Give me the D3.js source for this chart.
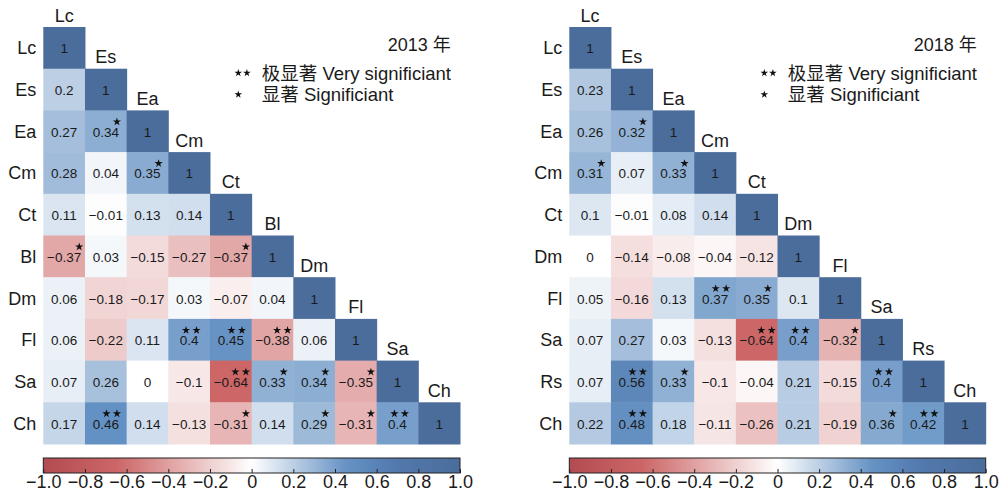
<!DOCTYPE html>
<html>
<head>
<meta charset="utf-8">
<script src="https://cdn.jsdelivr.net/npm/d3@7"></script>
<style>
  html, body { margin: 0; padding: 0; background: #fff; }
  svg { display: block; }
  text { font-family: "Liberation Sans", Arial, "Noto Sans CJK SC", sans-serif; fill: #1a1a1a; }
</style>
</head>
<body>
<svg id="chart" width="1005" height="501"></svg>
<script>
// ---- data -------------------------------------------------------------
// Lower-triangle correlation rows (diagonal included) and significance marks
// (number of stars: 1 = significant, 2 = very significant).
const vars2013 = ["Lc", "Es", "Ea", "Cm", "Ct", "Bl", "Dm", "Fl", "Sa", "Ch"];
const corr2013 = [
  [1],
  [0.2, 1],
  [0.27, 0.34, 1],
  [0.28, 0.04, 0.35, 1],
  [0.11, -0.01, 0.13, 0.14, 1],
  [-0.37, 0.03, -0.15, -0.27, -0.37, 1],
  [0.06, -0.18, -0.17, 0.03, -0.07, 0.04, 1],
  [0.06, -0.22, 0.11, 0.4, 0.45, -0.38, 0.06, 1],
  [0.07, 0.26, 0, -0.1, -0.64, 0.33, 0.34, -0.35, 1],
  [0.17, 0.46, 0.14, -0.13, -0.31, 0.14, 0.29, -0.31, 0.4, 1]
];
const sig2013 = [
  [0],
  [0, 0],
  [0, 1, 0],
  [0, 0, 1, 0],
  [0, 0, 0, 0, 0],
  [1, 0, 0, 0, 1, 0],
  [0, 0, 0, 0, 0, 0, 0],
  [0, 0, 0, 2, 2, 2, 0, 0],
  [0, 0, 0, 0, 2, 1, 1, 1, 0],
  [0, 2, 0, 0, 1, 0, 1, 1, 2, 0]
];

const vars2018 = ["Lc", "Es", "Ea", "Cm", "Ct", "Dm", "Fl", "Sa", "Rs", "Ch"];
const corr2018 = [
  [1],
  [0.23, 1],
  [0.26, 0.32, 1],
  [0.31, 0.07, 0.33, 1],
  [0.1, -0.01, 0.08, 0.14, 1],
  [0, -0.14, -0.08, -0.04, -0.12, 1],
  [0.05, -0.16, 0.13, 0.37, 0.35, 0.1, 1],
  [0.07, 0.27, 0.03, -0.13, -0.64, 0.4, -0.32, 1],
  [0.07, 0.56, 0.33, -0.1, -0.04, 0.21, -0.15, 0.4, 1],
  [0.22, 0.48, 0.18, -0.11, -0.26, 0.21, -0.19, 0.36, 0.42, 1]
];
const sig2018 = [
  [0],
  [0, 0],
  [0, 1, 0],
  [1, 0, 1, 0],
  [0, 0, 0, 0, 0],
  [0, 0, 0, 0, 0, 0],
  [0, 0, 0, 2, 1, 0, 0],
  [0, 0, 0, 0, 2, 2, 1, 0],
  [0, 2, 1, 0, 0, 0, 0, 2, 0],
  [0, 2, 0, 0, 0, 0, 0, 1, 2, 0]
];

const yearLabels = ["2013 年", "2018 年"];
const legendLabels = ["极显著 Very significiant", "显著 Significiant"];
const legendStars = [2, 1];
const colorbarTicks = [-1, -0.8, -0.6, -0.4, -0.2, 0, 0.2, 0.4, 0.6, 0.8, 1];
const colorbarTickLabels = ["−1.0", "−0.8", "−0.6", "−0.4", "−0.2", "0", "0.2", "0.4", "0.6", "0.8", "1.0"];

// ---- shared scales ------------------------------------------------------
const color = d3.scaleLinear()
  .domain([-1, -0.64, 0, 0.46, 0.7, 1])
  .range(["#b24b52", "#cd6767", "#ffffff", "#6491c3", "#5278ac", "#4a6d9b"])
  .interpolate(d3.interpolateRgb)
  .clamp(true);

const svg = d3.select("#chart");
const defs = svg.append("defs");
const grad = defs.append("linearGradient").attr("id", "cbar-grad")
  .attr("x1", "0%").attr("x2", "100%").attr("y1", "0%").attr("y2", "0%");
d3.range(0, 41).forEach(i => {
  const v = -1 + i * 0.05;
  grad.append("stop").attr("offset", (i / 40 * 100) + "%").attr("stop-color", color(v));
});

const starPath = size => d3.symbol().type(d3.symbolStar).size(size)();

function fmt(v) {
  return String(v).replace("-", "−");
}

function drawPanel(g, vars, corr, sig, year, left, right) {
  const top = 27, bottom = 444;
  const x = d3.scaleBand().domain(vars).range([left, right]);
  const y = d3.scaleBand().domain(vars).range([top, bottom]);
  const bw = x.bandwidth(), bh = y.bandwidth();

  const cells = [];
  corr.forEach((row, i) => row.forEach((v, j) => {
    cells.push({ r: vars[i], c: vars[j], v: v, s: sig[i][j] });
  }));

  // tiles
  g.append("g").selectAll("rect").data(cells).join("rect")
    .attr("x", d => x(d.c))
    .attr("y", d => y(d.r))
    .attr("width", bw + 0.5)
    .attr("height", bh + 0.5)
    .attr("fill", d => color(d.v));

  // values and significance stars
  const lab = g.append("g").selectAll("g").data(cells).join("g")
    .attr("transform", d => `translate(${x(d.c) + bw / 2},${y(d.r) + bh / 2})`);
  lab.append("text")
    .attr("text-anchor", "middle")
    .attr("y", 5.5)
    .style("font-size", "13.5px")
    .text(d => fmt(d.v))
    .each(function (d) { d.tw = this.getComputedTextLength(); });
  lab.each(function (d) {
    const sel = d3.select(this);
    for (let k = 0; k < d.s; k++) {
      const cx = d.tw / 2 - 2 - k * 10.5;
      sel.append("path")
        .attr("d", starPath(21))
        .attr("transform", `translate(${cx},-9.5)`)
        .attr("fill", "#111");
    }
  });

  // row labels
  g.append("g").selectAll("text").data(vars).join("text")
    .attr("x", left - 7)
    .attr("y", d => y(d) + bh / 2 + 6.5)
    .attr("text-anchor", "end")
    .style("font-size", "18px")
    .text(d => d);

  // column labels sitting above the diagonal
  g.append("g").selectAll("text").data(vars).join("text")
    .attr("x", d => x(d) + bw / 2)
    .attr("y", d => y(d) - 5.5)
    .attr("text-anchor", "middle")
    .style("font-size", "18px")
    .text(d => d);

  // year and significance legend
  g.append("text")
    .attr("x", left + 407.5)
    .attr("y", 51)
    .attr("text-anchor", "end")
    .style("font-size", "18px")
    .text(year);
  const leg = g.append("g").selectAll("g").data(legendLabels).join("g")
    .attr("transform", (d, i) => `translate(${left},${79.5 + i * 21.5})`);
  leg.append("text")
    .attr("x", 218.5)
    .style("font-size", "18.5px")
    .text(d => d);
  leg.each(function (d, i) {
    for (let k = 0; k < legendStars[i]; k++) {
      d3.select(this).append("path")
        .attr("d", starPath(18))
        .attr("transform", `translate(${195 + k * 8.6},${-6.5})`)
        .attr("fill", "#111");
    }
  });

  // colour bar
  const cb = d3.scaleLinear().domain([-1, 1]).range([left, right]);
  const cbTop = 458, cbH = 15;
  g.append("rect")
    .attr("x", left).attr("y", cbTop)
    .attr("width", right - left).attr("height", cbH)
    .attr("fill", "url(#cbar-grad)");
  const axis = d3.axisBottom(cb)
    .tickValues(colorbarTicks)
    .tickFormat((d, i) => colorbarTickLabels[i])
    .tickSizeInner(-4)
    .tickSizeOuter(0)
    .tickPadding(2);
  const ax = g.append("g")
    .attr("transform", `translate(0,${cbTop + cbH})`)
    .call(axis);
  ax.select(".domain").remove();
  ax.selectAll(".tick line").attr("stroke", "#222");
  ax.selectAll(".tick text")
    .style("font-size", "18px")
    .style("font-family", "\"Liberation Sans\", Arial, sans-serif")
    .attr("fill", "#1a1a1a");
  g.append("rect")
    .attr("x", left).attr("y", cbTop)
    .attr("width", right - left).attr("height", cbH)
    .attr("fill", "none")
    .attr("stroke", "#222")
    .attr("stroke-width", 1);
}

drawPanel(svg.append("g"), vars2013, corr2013, sig2013, yearLabels[0], 43.3, 460);
drawPanel(svg.append("g"), vars2018, corr2018, sig2018, yearLabels[1], 569.3, 985.7);
</script>
</body>
</html>
